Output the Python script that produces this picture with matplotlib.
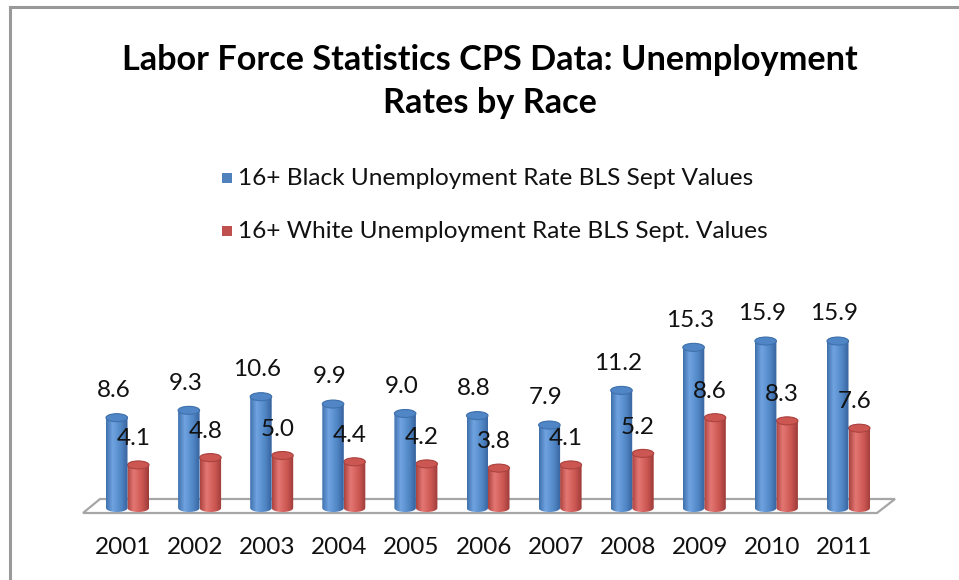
import matplotlib
matplotlib.use("Agg")
import matplotlib.pyplot as plt
import numpy as np
from matplotlib.colors import LinearSegmentedColormap
from matplotlib.patches import Ellipse, PathPatch, Polygon, Rectangle
from matplotlib.path import Path

plt.rcParams["font.family"] = ["Lato", "DejaVu Sans"]

# BLS September unemployment rates, age 16+
years = ["2001", "2002", "2003", "2004", "2005", "2006",
         "2007", "2008", "2009", "2010", "2011"]
black_rate = [8.6, 9.3, 10.6, 9.9, 9.0, 8.8, 7.9, 11.2, 15.3, 15.9, 15.9]
white_rate = [4.1, 4.8, 5.0, 4.4, 4.2, 3.8, 4.1, 5.2, 8.6, 8.3, 7.6]

black_label = "16+ Black Unemployment Rate BLS Sept Values"
white_label = "16+ White Unemployment Rate BLS Sept. Values"

BLUE = ["#3f71ad", "#70a3e0", "#5086c5", "#36629d"]
RED = ["#ab433f", "#e47773", "#cb5652", "#9c3b38"]

W, H = 959, 580
# pixel layout of the plotting area
X0_PX, STEP_PX = 127.5, 72.1      # centre of first year group, spacing
Y0_PX, UNIT_PX = 508.0, 10.5      # baseline, pixels per percentage point
BAR_W = 21.5 / STEP_PX
CAP_H = 8.0 / UNIT_PX

fig = plt.figure(figsize=(W / 100, H / 100), dpi=100)
ax = fig.add_axes([0, 0, 1, 1])
ax.set_xlim((0 - X0_PX) / STEP_PX, (W - X0_PX) / STEP_PX)
ax.set_ylim((Y0_PX - H) / UNIT_PX, Y0_PX / UNIT_PX)
ax.axis("off")


def px_to_data(px, py):
    return (px - X0_PX) / STEP_PX, (Y0_PX - py) / UNIT_PX


# chart border (only top and left edges fall inside the canvas)
fig.add_artist(plt.Line2D([10 / W, 10 / W], [0, 1 - 7 / H], color="#999999",
                          lw=2.2, transform=fig.transFigure))
fig.add_artist(plt.Line2D([10 / W, 1], [1 - 7 / H, 1 - 7 / H], color="#999999",
                          lw=2.2, transform=fig.transFigure))

# floor of the 3-D plot
floor = [px_to_data(83, 513), px_to_data(877, 513),
         px_to_data(895, 499), px_to_data(100, 499)]
ax.add_patch(Polygon(floor, closed=True, facecolor="white",
                     edgecolor="#a6a6a6", lw=1.6, zorder=1))


def cylinder(xc, value, colors, z):
    cmap = LinearSegmentedColormap.from_list(
        "cyl", list(zip([0.0, 0.3, 0.7, 1.0], colors)))
    left, right = xc - BAR_W / 2, xc + BAR_W / 2
    t = np.linspace(np.pi, 2 * np.pi, 30)
    bottom = np.column_stack([xc + BAR_W / 2 * np.cos(t),
                              CAP_H / 2 * np.sin(t)])
    t2 = np.linspace(0, np.pi, 30)
    top = np.column_stack([xc + BAR_W / 2 * np.cos(t2),
                           value + CAP_H / 2 * np.sin(t2)])
    verts = np.vstack([bottom, top, bottom[:1]])
    body = PathPatch(Path(verts), facecolor="none", edgecolor="none")
    ax.add_patch(body)
    grad = np.linspace(0, 1, 64).reshape(1, -1)
    im = ax.imshow(grad, cmap=cmap, aspect="auto", zorder=z,
                   extent=[left, right, -CAP_H, value + CAP_H])
    im.set_clip_path(body)
    ax.add_patch(Ellipse((xc, value), BAR_W, CAP_H, facecolor=colors[2],
                         edgecolor=colors[0], lw=0.8, zorder=z + 0.1))


for i, (b, w) in enumerate(zip(black_rate, white_rate)):
    xb = i - BAR_W / 2
    xw = i + BAR_W / 2
    cylinder(xw, w, RED, 2)
    cylinder(xb, b, BLUE, 3)
    ax.annotate(f"{b:.1f}", (xb, b), xytext=(-2.5, 19.5),
                textcoords="offset points", ha="center", va="center",
                fontsize=17.5, color="#111111", zorder=5)
    ax.annotate(f"{w:.1f}", (xw, w), xytext=(-3.5, 19),
                textcoords="offset points", ha="center", va="center",
                fontsize=17.5, color="#111111", zorder=5)
    ax.text(i - 0.06, px_to_data(0, 548)[1], years[i], ha="center",
            va="center", fontsize=17.5, color="#111111")

# title
fig.text(490 / W, 1 - 60 / H, "Labor Force Statistics CPS Data: Unemployment",
         ha="center", va="center", fontsize=24.7, fontweight="bold")
fig.text(490 / W, 1 - 103 / H, "Rates by Race",
         ha="center", va="center", fontsize=24.7, fontweight="bold")

# legend
for y_px, color, label in [(178, "#4f81bd", black_label),
                           (231, "#c0504d", white_label)]:
    fig.add_artist(Rectangle((222 / W, 1 - (y_px + 5) / H), 10 / W, 10 / H,
                             facecolor=color, edgecolor="none",
                             transform=fig.transFigure))
    fig.text(238 / W, 1 - y_px / H, label, ha="left", va="center",
             fontsize=17.6, color="#111111")

fig.savefig("out.png", dpi=100)
